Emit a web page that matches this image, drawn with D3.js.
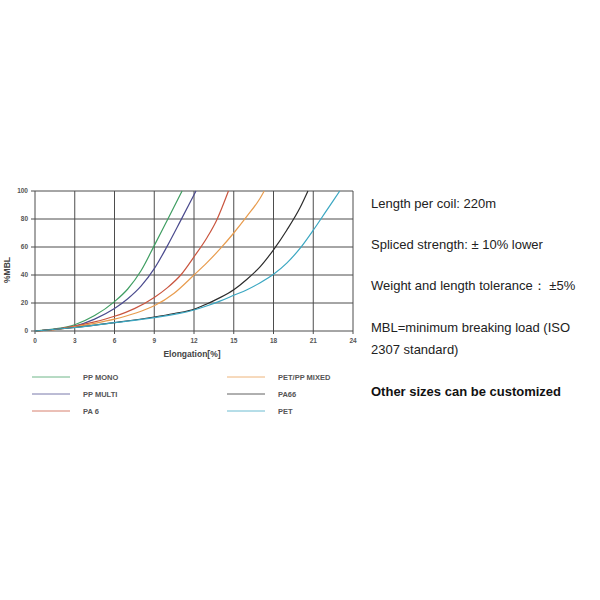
<!DOCTYPE html>
<html>
<head>
<meta charset="utf-8">
<script src="https://cdn.jsdelivr.net/npm/d3@7"></script>
<style>
  body { margin: 0; background: #fff; }
  svg { display: block; }
</style>
</head>
<body>
<svg id="chart" width="600" height="600"></svg>
<script>
// series: [elongation %, %MBL]
var ppMono = [[0,0],[1.5,1.5],[3,4.5],[4.5,11],[6,21],[7,30],[8,43],[9,61],[10,79.5],[11.1,100]];
var ppMulti = [[0,0],[1.5,1.2],[3,3.5],[4.5,8.5],[6,16],[7,23],[8,32],[9,44.5],[10,61],[11,79],[12.15,100]];
var pa6 = [[0,0],[1.5,1.2],[3,3.5],[4.5,6.5],[6,10.5],[7.5,16],[9,24],[10,31],[11,40],[12,53],[13,67],[13.7,79],[14.6,100]];
var petPpMixed = [[0,0],[1.5,1],[3,3],[4.5,5.5],[6,8.5],[7.5,12.5],[9,18],[10.5,27],[12,40],[13,49],[14,59],[15,70],[16,82],[17,95],[17.3,100]];
var pa66 = [[0,0],[3,2.5],[6,6],[9,10],[10.5,12.5],[12,15.5],[13,19.5],[14,24],[15,29.5],[16,37],[17,46],[18,58],[19,72],[20,88],[20.6,100]];
var pet = [[0,0],[3,2.5],[6,6],[9,9.5],[12,15],[13,18],[14,21.5],[15,25.5],[16,29.5],[17,34.5],[18,40.5],[19,48.5],[20,59],[21,72],[22,86],[23,100]];

var seriesNames = ["PP MONO", "PP MULTI", "PA 6", "PET/PP MIXED", "PA66", "PET"];
var seriesData = [ppMono, ppMulti, pa6, petPpMixed, pa66, pet];
var seriesColors = ["#3f9e62", "#4b4b8e", "#c9553f", "#e89c4e", "#2b2b2b", "#3ba7c2"];

var xTicks = [0, 3, 6, 9, 12, 15, 18, 21, 24];
var yTicks = [0, 20, 40, 60, 80, 100];

var notes = [
  "Length per coil: 220m",
  "Spliced strength: \u00b1 10% lower",
  "Weight and length tolerance\uff1a \u00b15%",
  "MBL=minimum breaking load (ISO",
  "2307 standard)"
];
var noteBold = "Other sizes can be customized";

var svg = d3.select("#chart");

var x = d3.scaleLinear().domain([0, 24]).range([35, 353]);
var y = d3.scaleLinear().domain([0, 100]).range([331, 191]);

var grid = svg.append("g").attr("class", "grid");

// vertical grid lines
grid.selectAll("line.v").data(xTicks).enter().append("line")
  .attr("class", "v")
  .attr("x1", d => x(d)).attr("x2", d => x(d))
  .attr("y1", y(100)).attr("y2", y(0) + 3)
  .attr("stroke", "#4d4d4d").attr("stroke-width", 1);

// horizontal grid lines
grid.selectAll("line.h").data(yTicks).enter().append("line")
  .attr("class", "h")
  .attr("x1", x(0) - 4).attr("x2", x(24))
  .attr("y1", d => y(d)).attr("y2", d => y(d))
  .attr("stroke", "#4d4d4d").attr("stroke-width", 1);

// tick labels
svg.append("g").selectAll("text").data(xTicks).enter().append("text")
  .attr("x", d => x(d)).attr("y", 343)
  .attr("text-anchor", "middle")
  .attr("font-family", "Liberation Sans, Arial, sans-serif")
  .attr("font-weight", "bold").attr("font-size", 6.5)
  .attr("fill", "#555")
  .text(d => d);

svg.append("g").selectAll("text").data(yTicks).enter().append("text")
  .attr("x", 28).attr("y", d => y(d) + 2.3)
  .attr("text-anchor", "end")
  .attr("font-family", "Liberation Sans, Arial, sans-serif")
  .attr("font-weight", "bold").attr("font-size", 6.5)
  .attr("fill", "#555")
  .text(d => d);

// axis titles
svg.append("text")
  .attr("x", 192).attr("y", 357)
  .attr("text-anchor", "middle")
  .attr("font-family", "Liberation Sans, Arial, sans-serif")
  .attr("font-weight", "bold").attr("font-size", 8.5)
  .attr("fill", "#444")
  .text("Elongation[%]");

svg.append("text")
  .attr("transform", "translate(10,270) rotate(-90)")
  .attr("text-anchor", "middle")
  .attr("font-family", "Liberation Sans, Arial, sans-serif")
  .attr("font-weight", "bold").attr("font-size", 8.5)
  .attr("fill", "#444")
  .text("%MBL");

// curves
var line = d3.line()
  .x(d => x(d[0]))
  .y(d => y(d[1]))
  .curve(d3.curveMonotoneX);

svg.append("g").selectAll("path").data(seriesData).enter().append("path")
  .attr("d", line)
  .attr("fill", "none")
  .attr("stroke", (d, i) => seriesColors[i])
  .attr("stroke-width", 1.2);

// legend, two columns of three
var legend = svg.append("g").selectAll("g").data(seriesNames).enter().append("g")
  .attr("transform", function(d, i) {
    var col = Math.floor(i / 3), row = i % 3;
    return "translate(" + (col === 0 ? 32 : 227) + "," + (377 + row * 17) + ")";
  });

legend.append("line")
  .attr("x1", 0).attr("x2", 38)
  .attr("stroke", (d, i) => seriesColors[i])
  .attr("stroke-opacity", 0.75)
  .attr("stroke-width", 1);

legend.append("text")
  .attr("x", 51).attr("y", 3)
  .attr("font-family", "Liberation Sans, Arial, sans-serif")
  .attr("font-weight", "bold").attr("font-size", 7.5)
  .attr("fill", "#555")
  .text(d => d);

// notes on the right
var noteY = [207.5, 248.5, 290, 331.5, 353.5];
svg.append("g").selectAll("text").data(notes).enter().append("text")
  .attr("x", 371).attr("y", (d, i) => noteY[i])
  .attr("font-family", "Liberation Sans, Arial, sans-serif")
  .attr("font-size", 13)
  .attr("fill", "#222")
  .text(d => d);

svg.append("text")
  .attr("x", 371).attr("y", 395.5)
  .attr("font-family", "Liberation Sans, Arial, sans-serif")
  .attr("font-weight", "bold").attr("font-size", 13)
  .attr("fill", "#111")
  .text(noteBold);
</script>
</body>
</html>
